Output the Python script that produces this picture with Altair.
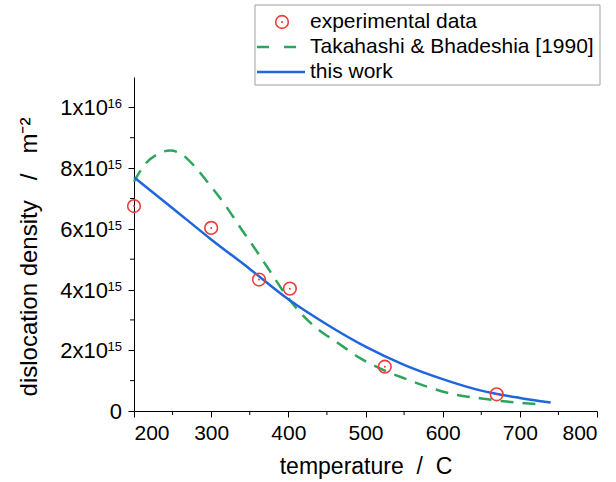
import altair as alt
import pandas as pd

# ---------------- data ----------------
exp_T = [200, 300, 362, 402, 525, 670]
exp_rho = [6.75e15, 6.03e15, 4.33e15, 4.03e15, 1.46e15, 0.55e15]

tb_T = [200, 215, 230, 247, 262, 277, 298, 318, 337, 355, 375, 396, 415, 437,
        462, 493, 523, 553, 580, 609, 648, 683, 722]
tb_rho = [7.55e15, 8.15e15, 8.45e15, 8.58e15, 8.45e15, 8.1e15, 7.45e15, 6.79e15,
          6.07e15, 5.41e15, 4.65e15, 3.85e15, 3.25e15, 2.72e15, 2.28e15, 1.74e15,
          1.35e15, 1.05e15, 0.80e15, 0.58e15, 0.42e15, 0.31e15, 0.23e15]

tw_T = [200, 250, 300, 350, 400, 450, 500, 550, 600, 650, 700, 740]
tw_rho = [7.70e15, 6.68e15, 5.65e15, 4.68e15, 3.68e15, 2.85e15, 2.12e15,
          1.52e15, 1.05e15, 0.67e15, 0.43e15, 0.28e15]

y_tick_vals = [0, 2e15, 4e15, 6e15, 8e15, 1e16]
y_tick_base = ["0", "2x10", "4x10", "6x10", "8x10", "1x10"]
y_tick_exp = ["", "15", "15", "15", "15", "16"]
y_minor = [1e15, 3e15, 5e15, 7e15, 9e15]
x_tick_vals = [200, 300, 400, 500, 600, 700, 800]
x_minor = [250, 350, 450, 550, 650, 750]

legend_labels = ["experimental data", "Takahashi & Bhadeshia [1990]", "this work"]
NB = "\u00a0"
x_title = "temperature" + NB * 2 + "/" + NB * 2 + "C"
y_title = "dislocation density" + NB * 3 + "/" + NB * 3 + "m\u207b\u00b2"

RED = "#f03c3c"
GREEN = "#2ea55e"
BLUE = "#1f66dd"
FONT = "Liberation Sans"
W, H = 463, 334

exp_df = pd.DataFrame({"T": exp_T, "rho": exp_rho})
tb_df = pd.DataFrame({"T": tb_T, "rho": tb_rho})
tw_df = pd.DataFrame({"T": tw_T, "rho": tw_rho})
ytick_df = pd.DataFrame({"v": y_tick_vals, "base": y_tick_base, "exp": y_tick_exp})
ymin_df = pd.DataFrame({"v": y_minor})
xmin_df = pd.DataFrame({"v": x_minor})
one = pd.DataFrame({"k": [0]})

xscale = alt.Scale(domain=[200, 800], nice=False, zero=False)
yscale = alt.Scale(domain=[0, 1.1e16], nice=False)

x_enc = alt.X("T:Q", scale=xscale,
              axis=alt.Axis(values=x_tick_vals, title=x_title, grid=False,
                            tickSize=6, labelPadding=5, titlePadding=12,
                            labelFontSize=21, titleFontSize=23))
y_enc = alt.Y("rho:Q", scale=yscale,
              axis=alt.Axis(values=y_tick_vals, labels=False, title=None,
                            grid=False, tickSize=6))

tb_line = alt.Chart(tb_df).mark_line(
    color=GREEN, strokeWidth=2.5, strokeDash=[13, 9], interpolate="monotone"
).encode(x=x_enc, y=y_enc)

tw_line = alt.Chart(tw_df).mark_line(
    color=BLUE, strokeWidth=2.5, interpolate="monotone"
).encode(x="T:Q", y="rho:Q")

pts = alt.Chart(exp_df).mark_point(
    shape="circle", filled=False, color=RED, strokeWidth=1.6, size=160, opacity=1
).encode(x="T:Q", y="rho:Q")
dots = alt.Chart(exp_df).mark_circle(color=RED, size=4, opacity=1).encode(
    x="T:Q", y="rho:Q")

# minor ticks
ymin = alt.Chart(ymin_df).mark_rule(color="black", strokeWidth=1).encode(
    x=alt.value(-4), x2=alt.value(0), y=alt.Y("v:Q", scale=yscale))
xmin = alt.Chart(xmin_df).mark_rule(color="black", strokeWidth=1).encode(
    x=alt.X("v:Q", scale=xscale), y=alt.value(H), y2=alt.value(H + 4))

# y tick labels with superscript exponents
ylab_base = alt.Chart(ytick_df).transform_filter("datum.exp != ''").mark_text(
    align="right", baseline="middle", font=FONT, fontSize=22, dy=1, color="black"
).encode(x=alt.value(-26), y=alt.Y("v:Q", scale=yscale), text="base:N")
ylab_zero = alt.Chart(ytick_df).transform_filter("datum.exp == ''").mark_text(
    align="right", baseline="middle", font=FONT, fontSize=22, dy=1, color="black"
).encode(x=alt.value(-12), y=alt.Y("v:Q", scale=yscale), text="base:N")
ylab_exp = alt.Chart(ytick_df).transform_filter("datum.exp != ''").mark_text(
    align="right", baseline="alphabetic", font=FONT, fontSize=13, dy=1, color="black"
).encode(x=alt.value(-12), y=alt.Y("v:Q", scale=yscale), text="exp:N")

ytitle = alt.Chart(one).mark_text(
    angle=270, align="center", baseline="middle", font=FONT, fontSize=24, color="black"
).encode(x=alt.value(-104), y=alt.value(180), text=alt.value(y_title))

# legend
box = alt.Chart(one).mark_rect(fill="white", stroke="#a0a0a0", strokeWidth=1).encode(
    x=alt.value(121), x2=alt.value(466), y=alt.value(-72), y2=alt.value(8))
leg_pt = alt.Chart(one).mark_point(
    shape="circle", filled=False, color=RED, strokeWidth=1.6, size=160, opacity=1
).encode(x=alt.value(148), y=alt.value(-55))
leg_dot = alt.Chart(one).mark_circle(color=RED, size=4, opacity=1).encode(
    x=alt.value(148), y=alt.value(-55))
leg_green = alt.Chart(one).mark_rule(color=GREEN, strokeWidth=2.5, strokeDash=[12, 15]).encode(
    x=alt.value(123), x2=alt.value(171), y=alt.value(-30))
leg_blue = alt.Chart(one).mark_rule(color=BLUE, strokeWidth=2.5).encode(
    x=alt.value(123), x2=alt.value(171), y=alt.value(-5))
leg_texts = [
    alt.Chart(one).mark_text(align="left", baseline="middle", font=FONT,
                             fontSize=21, color="black").encode(
        x=alt.value(176), y=alt.value(yy), text=alt.value(lbl))
    for lbl, yy in zip(legend_labels, [-55, -30, -5])
]

chart = alt.layer(
    tb_line, tw_line, pts, dots, ymin, xmin, ylab_base, ylab_zero, ylab_exp, ytitle,
    box, leg_pt, leg_dot, leg_green, leg_blue, *leg_texts
).properties(
    width=W, height=H,
    padding={"left": 134, "top": 77, "right": 19, "bottom": 71},
    autosize="none",
).configure_view(stroke=None).configure_axis(
    domainColor="black", tickColor="black", labelColor="black", titleColor="black",
    labelFont=FONT, titleFont=FONT, titleFontWeight="normal", domainWidth=1, tickWidth=1
)

chart.save("out.html", embed_options={"renderer": "svg", "actions": False})
